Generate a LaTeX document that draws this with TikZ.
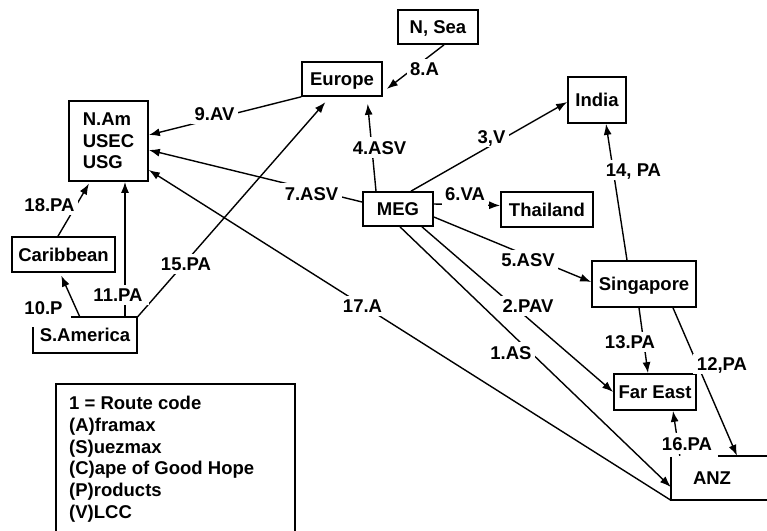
\documentclass[tikz,border=0pt]{standalone}
\usepackage{fontspec}
\setmainfont{Liberation Sans}
\usetikzlibrary{arrows.meta}

\begin{document}
\begin{tikzpicture}[x=1pt,y=-1pt,
  every node/.style={font=\fontsize{18.5}{21.5}\selectfont\bfseries},
  region/.style={draw, line width=1.7pt, inner sep=0pt, text height=13.3pt, text depth=0pt},
  plain/.style={inner sep=0pt, text height=13.3pt, text depth=0pt},
  route/.style={fill=white, inner sep=3.5pt, text height=13.3pt, text depth=0pt},
  link/.style={line width=1.4pt, -{Latex[length=11pt,width=8pt]}},
  outline/.style={line width=1.7pt},
]
\useasboundingbox (0,0) rectangle (767,530);

% regions
\node[region, minimum width=80pt, minimum height=34pt] (europe) at (342,79) {Europe};
\node[region, minimum width=80pt, minimum height=34pt] (nsea) at (438,27) {N, Sea};
\node[draw, line width=1.7pt, inner sep=0pt, minimum width=79pt, minimum height=80pt, align=left] (nam) at (108.5,141) {N.Am\\USEC\\USG};
\node[region, minimum width=58pt, minimum height=46pt] (india) at (597,100) {India};
\node[region, minimum width=70pt, minimum height=34pt] (meg) at (398,209) {MEG};
\node[region, minimum width=92pt, minimum height=35pt] (thai) at (547,209.5) {Thailand};
\node[region, minimum width=104pt, minimum height=46pt] (sing) at (644,284) {Singapore};
\node[region, minimum width=82pt, minimum height=36pt] (fareast) at (655,392) {Far East};
\node[region, minimum width=103pt, minimum height=35pt] (carib) at (63.5,254.5) {Caribbean};
\node[plain, minimum width=104pt, minimum height=35pt] (samer) at (85,335) {S.America};
\node[plain, minimum width=96pt, minimum height=44pt] (anz) at (719,478) {};
\node[plain] (anztext) at (712,478) {ANZ};

% open outlines of S.America and ANZ
\draw[outline] ([xshift=38pt]samer.north west) -- (samer.north east) -- (samer.south east)
  -- (samer.south west) -- ([yshift=-10pt]samer.north west);
\draw[outline] ([xshift=47pt]anz.north west) -- (anz.north east);
\draw[outline] ([yshift=-1pt]anz.north west) -- (anz.south west) -- (anz.south east);

% routes
\draw[link] ([xshift=2pt]meg.south) -- ([yshift=-9pt]anz.west);
\draw[link] ([xshift=24pt]meg.south) -- (fareast.west);
\draw[link] ([xshift=13pt]meg.north) -- ([yshift=-2pt]india.west);
\draw[link, shorten >=7pt] ([xshift=-22pt]meg.north) -- ([xshift=25pt]europe.south);
\draw[link] ([yshift=-8pt]meg.east) -- ([yshift=2pt]sing.west);
\draw[link] ([yshift=5pt]meg.east) -- ([yshift=4pt]thai.west);
\draw[link] ([yshift=7pt]meg.west) -- ([yshift=-9pt]nam.east);
\draw[link, shorten >=5pt] ([xshift=6pt]nsea.south) -- ([yshift=-13pt]europe.east);
\draw[link] (europe.south west) -- ([yshift=6pt]nam.east);
\draw[link, shorten >=3pt] ([xshift=-5pt]samer.north) -- ([xshift=-3.5pt]carib.south);
\draw[link] ([xshift=40pt]samer.north) -- ([xshift=16.5pt]nam.south);
\draw[link] ([xshift=29pt]sing.south) -- ([xshift=18pt]anz.north);
\draw[link] ([xshift=-5pt]sing.south) -- ([xshift=-7pt]fareast.north);
\draw[link] ([xshift=-17pt]sing.north) -- ([xshift=9pt]india.south);
\draw[link, shorten >=7pt] (samer.north east) -- ([xshift=-12pt]europe.south);
\draw[link] ([xshift=9pt]anz.north west) -- ([xshift=18pt]fareast.south);
\draw[link] (anz.south west) -- ([yshift=-29pt]nam.east);
\draw[link, shorten >=2pt] ([xshift=-5.5pt]carib.north) -- ([xshift=-18.5pt]nam.south);

% route codes
\node[route] (r1) at (511,352.5) {1.AS};
\node[route] (r2) at (528,306) {2.PAV};
\node[route] (r3) at (491.5,137) {3,V};
\node[route] (r4) at (379.5,147.5) {4.ASV};
\node[route] (r5) at (528,260) {5.ASV};
\node[route, inner ysep=6pt] (r6) at (465,193.5) {6.VA};
\node[route] (r7) at (311.5,193.5) {7.ASV};
\node[route] (r8) at (424.5,69) {8.A};
\node[route] (r9) at (214.5,113.5) {9.AV};
\node[route] (r10) at (43.5,308) {10.P};
\node[route, inner xsep=6pt] (r11) at (118,295) {11.PA};
\node[route] (r12) at (722,364) {12,PA};
\node[route] (r13) at (630,342) {13.PA};
\node[route] (r14) at (633.5,170) {14, PA};
\node[route] (r15) at (186,264) {15.PA};
\node[route] (r16) at (687,443.5) {16.PA};
\node[route] (r17) at (362.5,306) {17.A};
\node[route] (r18) at (49.5,204.5) {18.PA};

% key
\coordinate (keybl) at (56,545);
\coordinate (keytl) at (56,384);
\coordinate (keytr) at (295,384);
\coordinate (keybr) at (295,545);
\draw[line width=2.6pt] (keybl) -- (keytl) -- (keytr) -- (keybr);
\node[anchor=north west, inner sep=0pt, align=left, font=\fontsize{18.5}{21.7}\selectfont\bfseries] (key) at (69,396)
  {1 = Route code\\(A)framax\\(S)uezmax\\(C)ape of Good Hope\\(P)roducts\\(V)LCC};
\end{tikzpicture}
\end{document}
